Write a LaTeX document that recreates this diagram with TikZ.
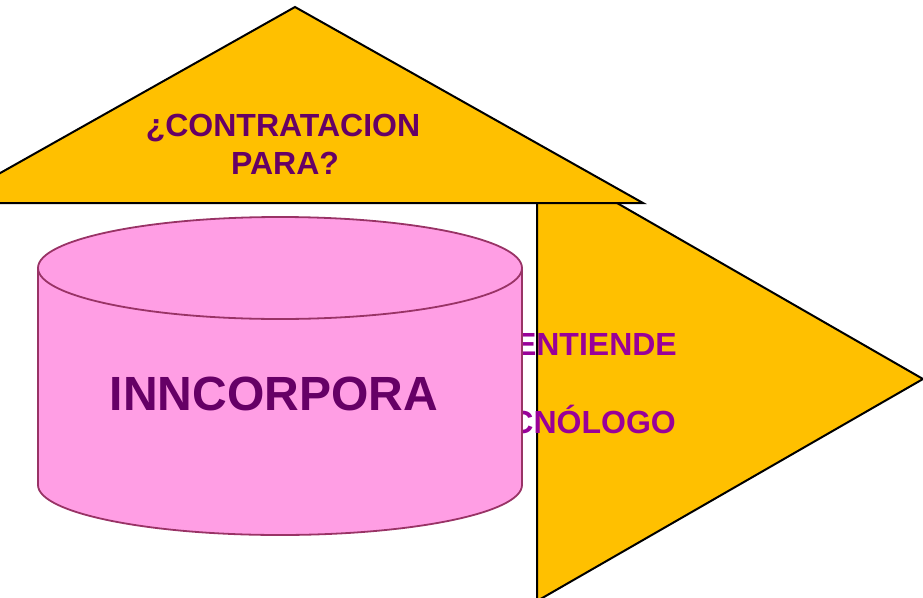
\documentclass[tikz,border=0pt]{standalone}
\usepackage{fontspec}
\setmainfont{Liberation Sans}
\usetikzlibrary{positioning}
\definecolor{myyellow}{RGB}{255, 192, 0}
\definecolor{mypink}{RGB}{255, 158, 228}
\definecolor{myedge}{RGB}{153, 51, 102}
\definecolor{mypurple}{RGB}{102, 0, 102}
\definecolor{mymagenta}{RGB}{153, 0, 153}

\begin{document}
\begin{tikzpicture}[x=1pt, y=-1pt]
    \useasboundingbox (0, 0) rectangle (923, 597);
    \clip (0, 0) rectangle (923, 597);
    % triangulo derecho
    \draw[fill=myyellow, line width=2pt] (537, 157) -- (923, 379) -- (537, 601) -- cycle;
    \node[font=\bfseries\fontsize{32}{38}\selectfont, text=mymagenta, anchor=base east, inner sep=0pt] (t1) at (677, 355) {ENTIENDE};
    \node[font=\bfseries\fontsize{32}{38}\selectfont, text=mymagenta, anchor=base east, inner sep=0pt] (t2) at (676, 433) {TECNÓLOGO};
    
    % triangulo superior
    \draw[fill=myyellow, line width=2pt] (-53, 203) -- (295, 7) -- (643, 203) -- cycle;
    \draw[line width=2.5pt] (-53, 203) -- (643, 203);
    \node[font=\bfseries\fontsize{32}{38}\selectfont, text=mypurple, anchor=base, inner sep=0pt] (q1) at (283, 136) {¿CONTRATACION};
    \node[font=\bfseries\fontsize{32}{38}\selectfont, text=mypurple, anchor=base, inner sep=0pt] (q2) at (285, 174) {PARA?};
    
    % cilindro
    \filldraw[fill=mypink, draw=myedge, line width=1.8pt] (38, 268) -- (38, 485)
        arc[start angle=180, end angle=360, x radius=242pt, y radius=50pt] -- (522, 268);
    \filldraw[fill=mypink, draw=myedge, line width=1.8pt] (280, 268) ellipse [x radius=242pt, y radius=51pt];
    \node[font=\bfseries\fontsize{48}{56}\selectfont, text=mypurple, anchor=base, inner sep=0pt] (c1) at (274, 410) {INNCORPORA};
\end{tikzpicture}
\end{document}
